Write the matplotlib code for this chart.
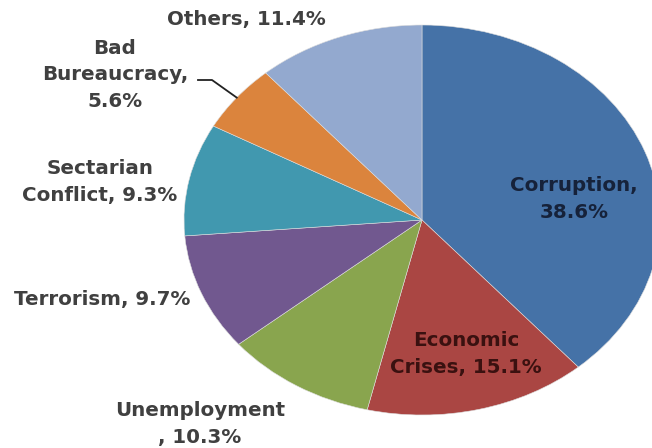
import matplotlib
matplotlib.use("Agg")
import matplotlib.pyplot as plt
import numpy as np

categories = ["Corruption", "Economic Crises", "Unemployment", "Terrorism",
              "Sectarian Conflict", "Bad Bureaucracy", "Others"]
values = [38.6, 15.1, 10.3, 9.7, 9.3, 5.6, 11.4]
labels = ["Corruption,\n38.6%", "Economic\nCrises, 15.1%", "Unemployment\n, 10.3%",
          "Terrorism, 9.7%", "Sectarian\nConflict, 9.3%", "Bad\nBureaucracy,\n5.6%",
          "Others, 11.4%"]
colors = ["#4572A7", "#AA4643", "#89A54E", "#71588F", "#4198AF", "#DB843D", "#93A9CF"]
label_colors = ["#16223A", "#3A1110", "#404040", "#404040", "#404040", "#404040", "#404040"]
# label centres in pixel layout (x, y from top)
label_pos = [(574, 199), (466, 354), (200, 424), (102, 299), (100, 182), (115, 75), (246, 20)]

W, H = 652, 448
cx, cy, rx, ry = 422, 220, 238, 195

fig = plt.figure(figsize=(W / 100, H / 100), dpi=100)
ax = fig.add_axes([0, 0, 1, 1])
ax.pie(values, colors=colors, startangle=90, counterclock=False, radius=1,
       wedgeprops=dict(linewidth=0.4, edgecolor="#dddddd"))
ax.set_aspect("auto")
ax.set_xlim(-cx / rx, (W - cx) / rx)
ax.set_ylim(-(H - cy) / ry, cy / ry)
ax.axis("off")

def px2data(x, y):
    return (x - cx) / rx, (cy - y) / ry

for lab, col, (x, y) in zip(labels, label_colors, label_pos):
    dx, dy = px2data(x, y)
    ax.text(dx, dy, lab, ha="center", va="center", color=col, fontsize=14.3,
            family="DejaVu Sans", fontweight="bold", linespacing=1.48)

# leader line for Bad Bureaucracy
cum = np.cumsum([0] + values)
i = categories.index("Bad Bureaucracy")
mid = np.deg2rad(90 - (cum[i] + values[i] / 2) * 3.6)
ex, ey = np.cos(mid), np.sin(mid)
p1 = px2data(212, 80)
p0 = px2data(198, 80)
ax.plot([p0[0], p1[0], ex], [p0[1], p1[1], ey], color="#222222", lw=1.3)

fig.savefig("out.png", dpi=100)
